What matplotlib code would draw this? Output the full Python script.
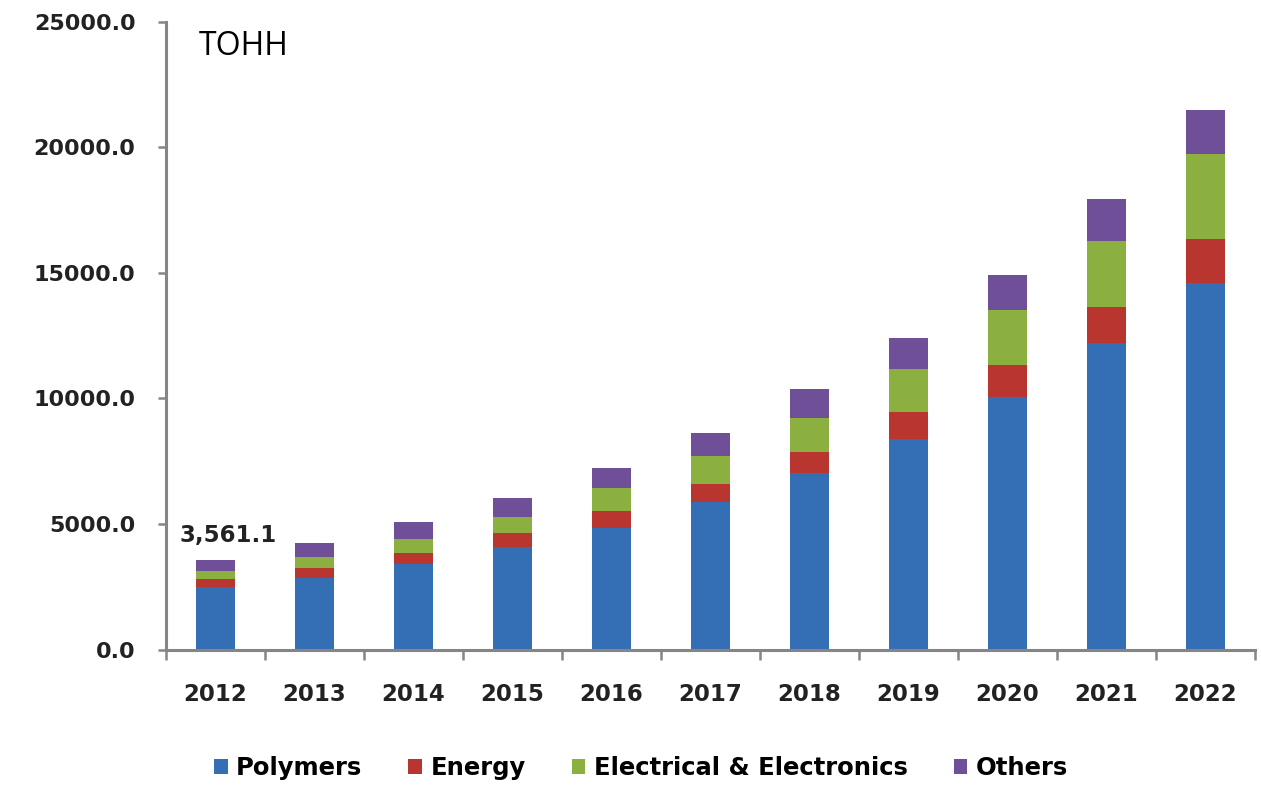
import numpy as np
import matplotlib
matplotlib.use("Agg")
import matplotlib.pyplot as plt

# data
years = ["2012", "2013", "2014", "2015", "2016", "2017",
         "2018", "2019", "2020", "2021", "2022"]
polymers = [2482, 2861, 3406, 4072, 4853, 5888, 7044, 8375, 10048, 12183, 14590]
energy = [328, 374, 427, 557, 665, 694, 813, 1075, 1287, 1435, 1753]
electrical = [316, 462, 557, 662, 904, 1139, 1378, 1713, 2191, 2645, 3398]
others = [435.1, 534, 678, 757, 821, 893, 1132, 1235, 1366, 1673, 1725]
series_names = ["Polymers", "Energy", "Electrical & Electronics", "Others"]
colors = ["#346FB5", "#B93530", "#8BB040", "#6E4F98"]
first_label = "3,561.1"
unit_label = "ТОНН"

plt.rcParams['font.family'] = ['DejaVu Sans']

fig = plt.figure(figsize=(12.61, 7.85), dpi=100)
ax = fig.add_axes([0.1316, 0.1726, 0.8634, 0.8])

x = np.arange(len(years))
bottom = np.zeros(len(years))
for vals, name, c in zip([polymers, energy, electrical, others], series_names, colors):
    ax.bar(x, vals, width=0.39, bottom=bottom, color=c, label=name, zorder=2)
    bottom += np.array(vals)

ax.set_xlim(-0.5, len(years) - 0.5)
ax.set_ylim(0, 25000)

# y axis
ax.set_yticks(np.arange(0, 25001, 5000))
ax.set_yticklabels([f"{v:.1f}" for v in np.arange(0, 25001, 5000)],
                   fontsize=16, fontweight='bold', color='#222222')
ax.tick_params(axis='y', direction='out', length=6, width=1.8,
               color='#858585', pad=16)

# x axis: labels at centres, tick marks between categories
ax.set_xticks(x)
ax.set_xticklabels(years, fontsize=16.5, fontweight='bold', color='#222222')
ax.tick_params(axis='x', which='major', length=0, pad=24)
ax.set_xticks(np.arange(-0.5, len(years)), minor=True)
ax.tick_params(axis='x', which='minor', direction='out', length=7,
               width=1.8, color='#858585')

for side in ['top', 'right']:
    ax.spines[side].set_visible(False)
for side in ['left', 'bottom']:
    ax.spines[side].set_color('#858585')
    ax.spines[side].set_linewidth(2.2)

ax.text(-0.36, bottom[0] + 720, first_label, fontsize=16.5, fontweight='bold',
        color='#222222', ha='left', va='baseline')
ax.text(0.03, 0.987, unit_label, transform=ax.transAxes, fontsize=23,
        family=['Open Sans', 'DejaVu Sans'], ha='left', va='top')

fig.legend(loc='center', bbox_to_anchor=(641 / 1261, 1 - 768 / 785), ncol=4,
           frameon=False, handlelength=0.55, handleheight=0.6, handletextpad=0.35,
           columnspacing=1.9, prop={'size': 17.5, 'weight': 'bold'})

fig.savefig("out.png", dpi=100)
